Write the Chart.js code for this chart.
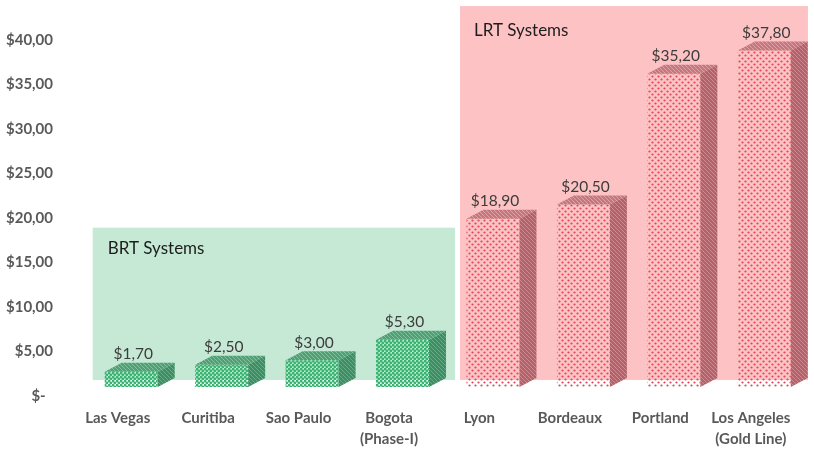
<!DOCTYPE html>
<html><head><meta charset="utf-8">
<script src="https://cdn.jsdelivr.net/npm/chart.js@4"></script>
<style>html,body{margin:0;padding:0;background:#fff}#wrap{width:814px;height:450px}</style>
</head><body><div id="wrap"><canvas id="c" width="814" height="450"></canvas></div>
<script>
// ---- data ----
const categories = ['Las Vegas', 'Curitiba', 'Sao Paulo', ['Bogota', '(Phase-I)'], 'Lyon', 'Bordeaux', 'Portland', ['Los Angeles', '(Gold Line)']];
const costs = [1.70, 2.50, 3.00, 5.30, 18.90, 20.50, 35.20, 37.80];
const systemGroup = ['BRT', 'BRT', 'BRT', 'BRT', 'LRT', 'LRT', 'LRT', 'LRT'];
const groupTitles = ['BRT Systems', 'LRT Systems'];
const yTickValues = [0, 5, 10, 15, 20, 25, 30, 35, 40];

// ---- styling ----
function makePattern(w, h, draw) {
  const c = document.createElement('canvas'); c.width = w; c.height = h;
  const g = c.getContext('2d'); draw(g, w, h);
  return document.getElementById('c').getContext('2d').createPattern(c, 'repeat');
}
function dots(color, r, w, h, pts) {
  return makePattern(w, h, (g) => { g.fillStyle = color; pts.forEach(p => { g.beginPath(); g.arc(p[0], p[1], r, 0, Math.PI * 2); g.fill(); }); });
}
function hatch(base, line) {
  return makePattern(4, 4, (g, w, h) => {
    g.fillStyle = base; g.fillRect(0, 0, w, h);
    g.strokeStyle = line; g.lineWidth = 1;
    g.beginPath(); g.moveTo(0, 0); g.lineTo(4, 4); g.moveTo(-2, 2); g.lineTo(2, 6); g.moveTo(2, -2); g.lineTo(6, 2); g.stroke();
  });
}
const styles = {
  BRT: {
    box: '#c6e9d5',
    front: dots('#3ab472', 1.5, 4, 4, [[1, 1], [3, 3]]),
    side: hatch('#3f8d65', '#68ad88'),
    top: hatch('#529f77', '#7fc29c')
  },
  LRT: {
    box: '#fdc3c4',
    front: dots('#e0455a', 1.1, 6, 6, [[1.5, 1.5], [4.5, 4.5]]),
    side: hatch('#b2636a', '#cf8c92'),
    top: hatch('#c4777e', '#dea1a6')
  }
};
// background group regions (category index range with fractional padding, value range)
const regions = [
  { group: 'BRT', title: groupTitles[0], from: 0, to: 3, padL: -0.426, padR: 0.58, yTop: 17.9, yBottom: 0.79, tdx: 15, tdy: 21 },
  { group: 'LRT', title: groupTitles[1], from: 4, to: 7, padL: -0.365, padR: 0.483, yTop: 42.8, yBottom: 0.79, tdx: 14, tdy: 24.5 }
];
const depth = { dx: 17, dy: -9 };
const fmt = v => '$' + v.toFixed(2).replace('.', ',');

const decorPlugin = {
  id: 'decor',
  beforeDatasetsDraw(chart) {
    const { ctx, scales: { x, y } } = chart;
    const cw = x.getPixelForValue(1) - x.getPixelForValue(0);
    ctx.save();
    regions.forEach(r => {
      const l = x.getPixelForValue(r.from) + r.padL * cw;
      const rr = x.getPixelForValue(r.to) + r.padR * cw;
      const t = y.getPixelForValue(r.yTop), b = y.getPixelForValue(r.yBottom);
      ctx.fillStyle = styles[r.group].box;
      ctx.fillRect(l, t, rr - l, b - t);
      ctx.fillStyle = '#1c1c1c';
      ctx.font = '17px Lato';
      ctx.textAlign = 'left'; ctx.textBaseline = 'middle';
      ctx.fillText(r.title, l + r.tdx, t + r.tdy);
    });
    ctx.restore();
  },
  afterDatasetsDraw(chart) {
    const ctx = chart.ctx;
    const meta = chart.getDatasetMeta(0);
    ctx.save();
    meta.data.forEach((bar, i) => {
      const { x, y, base, width } = bar.getProps(['x', 'y', 'base', 'width'], true);
      const l = x - width / 2, r = x + width / 2;
      const st = styles[systemGroup[i]];
      ctx.fillStyle = st.side;
      ctx.beginPath();
      ctx.moveTo(r, y); ctx.lineTo(r + depth.dx, y + depth.dy); ctx.lineTo(r + depth.dx, base + depth.dy); ctx.lineTo(r, base);
      ctx.closePath(); ctx.fill();
      ctx.fillStyle = st.top;
      ctx.beginPath();
      ctx.moveTo(l, y); ctx.lineTo(l + depth.dx, y + depth.dy); ctx.lineTo(r + depth.dx, y + depth.dy); ctx.lineTo(r, y);
      ctx.closePath(); ctx.fill();
    });
    meta.data.forEach((bar, i) => {
      const { x, y } = bar.getProps(['x', 'y'], true);
      ctx.fillStyle = '#3c3c3c';
      ctx.font = '15.5px Lato';
      ctx.textAlign = 'center'; ctx.textBaseline = 'middle';
      ctx.fillText(fmt(costs[i]), x + 2, y - 17.5);
    });
    ctx.restore();
  }
};

const tickFont = { family: 'Lato', weight: 'bold', size: 15, lineHeight: 1.4 };

new Chart(document.getElementById('c'), {
  type: 'bar',
  data: {
    labels: categories,
    datasets: [{
      data: costs,
      backgroundColor: systemGroup.map(g => styles[g].front),
      borderWidth: 0,
      barPercentage: 0.586,
      categoryPercentage: 1
    }]
  },
  options: {
    responsive: false,
    animation: false,
    events: [],
    layout: { padding: { top: 31, right: 4.5, left: 0, bottom: 0 } },
    plugins: { legend: { display: false }, tooltip: { enabled: false } },
    scales: {
      x: {
        offset: true,
        grid: { display: false, drawTicks: false },
        border: { display: false },
        ticks: { font: tickFont, color: '#595959', padding: 20.5, labelOffset: -13.5, maxRotation: 0, autoSkip: false },
        afterFit(s) { s.height = 63; s.paddingLeft = 0; s.paddingRight = 0; }
      },
      y: {
        min: 0, max: 40,
        grid: { display: false, drawTicks: false },
        border: { display: false },
        afterBuildTicks(s) { s.ticks = yTickValues.map(v => ({ value: v })); },
        ticks: {
          font: tickFont, color: '#595959', padding: 33, labelOffset: 9,
          callback: v => v === 0 ? '$-  ' : fmt(v)
        },
        afterFit(s) { s.width = 86; s.paddingTop = 0; s.paddingBottom = 0; }
      }
    }
  },
  plugins: [decorPlugin]
});
</script>
</body></html>
